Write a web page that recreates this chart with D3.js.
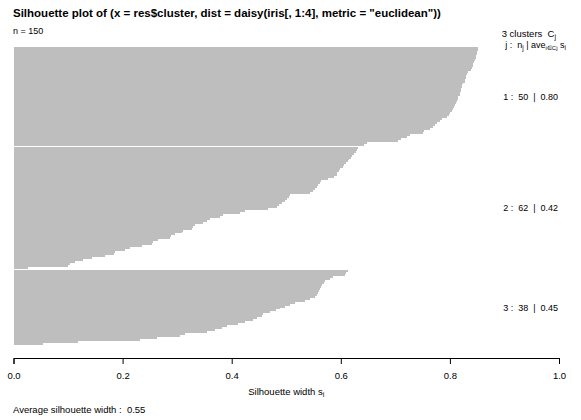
<!DOCTYPE html>
<html>
<head>
<meta charset="utf-8">
<script src="https://cdn.jsdelivr.net/npm/d3@7"></script>
<style>
  body { margin: 0; background: #fff; }
  text { font-family: "Liberation Sans", Arial, Helvetica, sans-serif; fill: #000; }
</style>
</head>
<body>
<svg id="chart" width="581" height="420"></svg>
<script>
// silhouette widths, sorted within each cluster
var cluster1 = [0.851, 0.851, 0.850, 0.849, 0.848, 0.847, 0.846, 0.845, 0.843, 0.842,
                0.840, 0.838, 0.833, 0.831, 0.830, 0.829, 0.828, 0.827, 0.824, 0.823,
                0.822, 0.821, 0.820, 0.819, 0.818, 0.815, 0.814, 0.813, 0.812, 0.810,
                0.808, 0.806, 0.804, 0.801, 0.798, 0.795, 0.786, 0.781, 0.777, 0.772,
                0.769, 0.764, 0.752, 0.750, 0.727, 0.721, 0.710, 0.705, 0.648, 0.643]
var cluster2 = [0.632, 0.630, 0.628, 0.624, 0.621, 0.619, 0.615, 0.613, 0.610, 0.606,
                0.604, 0.598, 0.597, 0.593, 0.593, 0.588, 0.577, 0.564, 0.562, 0.558,
                0.556, 0.552, 0.549, 0.544, 0.507, 0.505, 0.501, 0.498, 0.492, 0.487,
                0.483, 0.467, 0.425, 0.415, 0.384, 0.379, 0.360, 0.354, 0.348, 0.333,
                0.329, 0.328, 0.311, 0.309, 0.296, 0.289, 0.287, 0.265, 0.256, 0.254,
                0.235, 0.214, 0.204, 0.186, 0.184, 0.168, 0.143, 0.128, 0.113, 0.103,
                0.100, 0.027]
var cluster3 = [0.614, 0.609, 0.608, 0.585, 0.580, 0.571, 0.569, 0.565, 0.564, 0.562,
                0.560, 0.559, 0.557, 0.553, 0.544, 0.534, 0.516, 0.507, 0.498, 0.489,
                0.481, 0.470, 0.457, 0.455, 0.446, 0.439, 0.424, 0.412, 0.391, 0.382,
                0.369, 0.354, 0.314, 0.305, 0.263, 0.232, 0.118, 0.054]

var clusterIds = [1, 2, 3]
var clusterAvg = ["0.80", "0.42", "0.45"]
var xTicks = [0, 0.2, 0.4, 0.6, 0.8, 1.0]
var avgWidth = "0.55"

var clusters = [cluster1, cluster2, cluster3]
var gap = 0.5   // space between clusters, in bar heights

// lay the bars out, cluster by cluster
var rows = [], groups = [], pos = 0
clusters.forEach(function(vals, c) {
    if (c > 0) pos += gap
    var start = pos
    vals.forEach(function(v) {
        rows.push({ cluster: c, value: v, pos: pos })
        pos += 1
    })
    groups.push({ id: clusterIds[c], n: vals.length, avg: clusterAvg[c], mid: (start + pos) / 2 })
})
var nTotal = rows.length

var svg = d3.select("#chart")

var x = d3.scaleLinear().domain([0, 1]).range([13.5, 559])
var y = d3.scaleLinear().domain([0, pos]).range([47, 345])

// bars
svg.append("g")
    .attr("shape-rendering", "crispEdges")
    .selectAll("rect")
    .data(rows)
    .enter().append("rect")
    .attr("x", x(0))
    .attr("y", function(d) { return y(d.pos) })
    .attr("width", function(d) { return x(d.value) - x(0) })
    .attr("height", function(d) { return y(d.pos + 1) - y(d.pos) })
    .attr("fill", "#bebebe")

// x axis
var xAxis = d3.axisBottom(x)
    .tickValues(xTicks)
    .tickFormat(d3.format(".1f"))
    .tickSizeOuter(0)
    .tickSize(6)
    .tickPadding(8)

var ax = svg.append("g")
    .attr("transform", "translate(0,358)")
    .call(xAxis)
ax.select(".domain").attr("stroke", "#000")
ax.selectAll(".tick line").attr("stroke", "#000")
ax.selectAll(".tick text")
    .style("font-family", '"Liberation Sans", Arial, sans-serif')
    .style("font-size", "9.5px")
    .attr("fill", "#000")

// titles
svg.append("text")
    .attr("x", 13)
    .attr("y", 17)
    .style("font-size", "11.5px")
    .style("font-weight", "bold")
    .text('Silhouette plot of (x = res$cluster, dist = daisy(iris[, 1:4], metric = "euclidean"))')

svg.append("text")
    .attr("x", 13)
    .attr("y", 34)
    .style("font-size", "9px")
    .text("n = " + nTotal)

// header on the right
var h1 = svg.append("text")
    .attr("x", 556)
    .attr("y", 37)
    .attr("text-anchor", "end")
    .style("font-size", "9.5px")
    .style("white-space", "pre")
h1.append("tspan").text(clusters.length + " clusters  C")
h1.append("tspan").attr("dy", 2).style("font-size", "7px").text("j")

var h2 = svg.append("text")
    .attr("x", 566)
    .attr("y", 48)
    .attr("text-anchor", "end")
    .style("font-size", "9px")
    .style("white-space", "pre")
h2.append("tspan").text("j :  n")
h2.append("tspan").attr("dy", 2).style("font-size", "6.5px").text("j")
h2.append("tspan").attr("dy", -2).text(" | ave")
h2.append("tspan").attr("dy", 2).style("font-size", "6px").text("i\u2208Cj")
h2.append("tspan").attr("dy", -2).text(" s")
h2.append("tspan").attr("dy", 2).style("font-size", "6.5px").text("i")

// per-cluster labels
svg.selectAll(".clab")
    .data(groups)
    .enter().append("text")
    .attr("class", "clab")
    .attr("x", 558)
    .attr("y", function(d) { return y(d.mid) + 3.5 })
    .attr("text-anchor", "end")
    .style("font-size", "9px")
    .style("white-space", "pre")
    .text(function(d) { return d.id + " :  " + d.n + "  |  " + d.avg })

// axis title
var xt = svg.append("text")
    .attr("x", (x(0) + x(1)) / 2)
    .attr("y", 395)
    .attr("text-anchor", "middle")
    .style("font-size", "9.5px")
xt.append("tspan").text("Silhouette width s")
xt.append("tspan").attr("dy", 2).style("font-size", "7px").text("i")

svg.append("text")
    .attr("x", 13)
    .attr("y", 413)
    .style("font-size", "9.5px")
    .style("white-space", "pre")
    .text("Average silhouette width :  " + avgWidth)
</script>
</body>
</html>
